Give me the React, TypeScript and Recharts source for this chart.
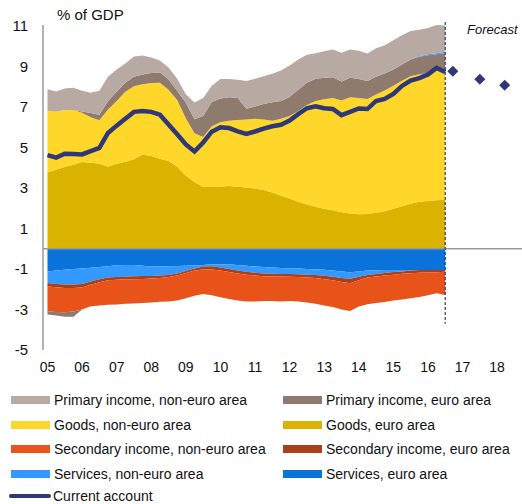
import React from "react";
import {
  ComposedChart,
  Area,
  Line,
  Scatter,
  XAxis,
  YAxis,
  ReferenceLine,
} from "recharts";

// quarterly observations, % of GDP (4-quarter sums)
const quarters = [
  2005, 2005.25, 2005.5, 2005.75, 2006, 2006.25, 2006.5, 2006.75,
  2007, 2007.25, 2007.5, 2007.75, 2008, 2008.25, 2008.5, 2008.75,
  2009, 2009.25, 2009.5, 2009.75, 2010, 2010.25, 2010.5, 2010.75,
  2011, 2011.25, 2011.5, 2011.75, 2012, 2012.25, 2012.5, 2012.75,
  2013, 2013.25, 2013.5, 2013.75, 2014, 2014.25, 2014.5, 2014.75,
  2015, 2015.25, 2015.5, 2015.75, 2016, 2016.25, 2016.5,
];

const goodsEuro = [
  3.76, 3.9, 4.05, 4.15, 4.28, 4.25, 4.2, 4.05, 4.2, 4.3, 4.42, 4.65, 4.58, 4.45, 4.33, 4.05,
  3.6, 3.3, 3.05, 3.05, 3.08, 3.1, 3.06, 3.02, 2.98, 2.9, 2.78, 2.62, 2.48, 2.32, 2.18, 2.08,
  1.98, 1.9, 1.8, 1.74, 1.71, 1.72, 1.78, 1.85, 1.98, 2.1, 2.22, 2.32, 2.36, 2.4, 2.42,
];
const goodsNonEuro = [
  3.06, 2.86, 2.8, 2.7, 2.44, 2.25, 2.15, 2.83, 3.1, 3.45, 3.6, 3.47, 3.6, 3.75, 3.52, 3.3,
  2.85, 2.4, 2.47, 3.0, 3.17, 3.22, 3.3, 3.36, 3.44, 3.48, 3.54, 3.8, 4.07, 4.48, 4.92, 5.22,
  5.4, 5.54, 5.52, 5.74, 5.73, 5.68, 5.84, 5.97, 6.07, 6.2, 6.3, 6.3, 6.32, 6.4, 6.43,
];
const primaryEuro = [
  -0.16, -0.18, -0.22, -0.26, 0.06, 0.2, 0.27, 0.42, 0.45, 0.45, 0.48, 0.48, 0.5, 0.5, 0.51, 0.45,
  0.76, 0.7, 1.03, 1.2, 1.17, 1.16, 1.09, 0.54, 0.6, 0.77, 0.92, 0.88, 0.95, 1.05, 1.1, 1.1,
  1.07, 1.03, 0.94, 0.96, 0.94, 0.88, 0.88, 0.83, 0.8, 0.8, 0.83, 0.86, 0.87, 0.8, 0.8,
];
const primaryNonEuro = [
  1.06, 1.0, 1.07, 1.1, 1.02, 1.0, 1.18, 1.2, 1.1, 0.95, 1.0, 0.94, 0.77, 0.6, 0.59, 0.6,
  0.42, 0.82, 0.9, 0.8, 0.96, 0.9, 0.9, 1.36, 1.38, 1.37, 1.4, 1.5, 1.55, 1.5, 1.38, 1.26,
  1.3, 1.37, 1.42, 1.4, 1.4, 1.36, 1.4, 1.4, 1.45, 1.45, 1.4, 1.31, 1.3, 1.39, 1.3,
];
const servicesEuro = [
  -1.12, -1.08, -1.04, -1.0, -0.98, -0.94, -0.9, -0.86, -0.82, -0.8, -0.8, -0.84, -0.88, -0.88, -0.86, -0.85,
  -0.84, -0.83, -0.8, -0.76, -0.76, -0.78, -0.8, -0.84, -0.88, -0.9, -0.93, -0.95, -0.97, -0.98, -1.0, -1.02,
  -1.04, -1.07, -1.12, -1.16, -1.12, -1.08, -1.06, -1.05, -1.05, -1.05, -1.05, -1.05, -1.05, -1.05, -1.05,
];
const servicesNonEuro = [
  -0.57, -0.66, -0.73, -0.77, -0.76, -0.68, -0.6, -0.56, -0.58, -0.58, -0.56, -0.51, -0.46, -0.44, -0.44, -0.37,
  -0.26, -0.15, -0.08, -0.1, -0.16, -0.22, -0.28, -0.3, -0.3, -0.32, -0.31, -0.3, -0.28, -0.28, -0.28, -0.28,
  -0.29, -0.31, -0.32, -0.32, -0.26, -0.22, -0.19, -0.15, -0.1, -0.07, -0.03, 0.03, 0.05, 0.06, 0.08,
];
const secondaryEuro = [
  -0.17, -0.16, -0.17, -0.17, -0.17, -0.16, -0.15, -0.14, -0.13, -0.13, -0.14, -0.14, -0.13, -0.12, -0.1, -0.1,
  -0.1, -0.1, -0.14, -0.17, -0.16, -0.15, -0.14, -0.14, -0.14, -0.14, -0.13, -0.12, -0.13, -0.14, -0.14, -0.15,
  -0.17, -0.18, -0.2, -0.22, -0.17, -0.12, -0.12, -0.12, -0.13, -0.12, -0.13, -0.14, -0.12, -0.11, -0.09,
];
const secondaryNonEuro = [
  -1.23, -1.22, -1.2, -1.16, -1.09, -1.06, -1.15, -1.21, -1.22, -1.21, -1.2, -1.19, -1.18, -1.18, -1.2, -1.23,
  -1.25, -1.24, -1.22, -1.27, -1.32, -1.33, -1.33, -1.32, -1.28, -1.22, -1.21, -1.23, -1.2, -1.2, -1.23, -1.27,
  -1.3, -1.32, -1.36, -1.38, -1.3, -1.32, -1.31, -1.31, -1.28, -1.26, -1.24, -1.19, -1.13, -1.04, -1.14,
];
const currentAccount = [
  4.62, 4.5, 4.69, 4.68, 4.66, 4.82, 4.98, 5.72, 6.08, 6.42, 6.76, 6.8, 6.76, 6.62, 6.14, 5.65,
  5.15, 4.8, 5.25, 5.78, 6.0, 5.96, 5.8, 5.67, 5.79, 5.93, 6.05, 6.12, 6.33, 6.65, 6.94, 7.04,
  6.94, 6.9, 6.6, 6.76, 6.93, 6.9, 7.3, 7.4, 7.65, 8.04, 8.3, 8.43, 8.6, 8.93, 8.73,
];

const forecastDates = [2016.72, 2017.5, 2018.22];
const forecastValues = [8.77, 8.37, 8.08];

const yearTicks = [2005, 2006, 2007, 2008, 2009, 2010, 2011, 2012, 2013, 2014, 2015, 2016, 2017, 2018];
const yearLabels = ["05", "06", "07", "08", "09", "10", "11", "12", "13", "14", "15", "16", "17", "18"];
const yTicks = [-5, -3, -1, 1, 3, 5, 7, 9, 11];

const COLORS = {
  primaryNon: "#B8AAA2",
  primaryEuro: "#8F7A6E",
  goodsNon: "#FFD62A",
  goodsEuro: "#D9B300",
  secondaryNon: "#E8531A",
  secondaryEuro: "#A8411B",
  servicesNon: "#3399FF",
  servicesEuro: "#0A73D9",
  ca: "#2E3878",
};

const legendItems = [
  { label: "Primary income, non-euro area", color: COLORS.primaryNon },
  { label: "Primary income, euro area", color: COLORS.primaryEuro },
  { label: "Goods, non-euro area", color: COLORS.goodsNon },
  { label: "Goods, euro area", color: COLORS.goodsEuro },
  { label: "Secondary income, non-euro area", color: COLORS.secondaryNon },
  { label: "Secondary income, euro area", color: COLORS.secondaryEuro },
  { label: "Services, non-euro area", color: COLORS.servicesNon },
  { label: "Services, euro area", color: COLORS.servicesEuro },
];

// stack positives upward and negatives downward, in the original's order
const rows: any[] = quarters.map((x, i) => {
  let pos = 0;
  let neg = 0;
  const up = (v: number) => {
    const lo = pos;
    pos += Math.max(v, 0);
    return [lo, pos];
  };
  const down = (v: number) => {
    const hi = neg;
    neg += Math.min(v, 0);
    return [neg, hi];
  };
  return {
    x,
    goodsEuro: up(goodsEuro[i]),
    goodsNon: up(goodsNonEuro[i]),
    primaryEuroPos: up(primaryEuro[i]),
    servicesNonPos: up(servicesNonEuro[i]),
    primaryNon: up(primaryNonEuro[i]),
    servicesEuro: down(servicesEuro[i]),
    servicesNonNeg: down(servicesNonEuro[i]),
    secondaryEuro: down(secondaryEuro[i]),
    secondaryNon: down(secondaryNonEuro[i]),
    primaryEuroNeg: down(primaryEuro[i]),
    ca: currentAccount[i],
  };
});
forecastDates.forEach((x, i) => rows.push({ x, fc: forecastValues[i] }));

const areas = [
  ["goodsEuro", COLORS.goodsEuro],
  ["goodsNon", COLORS.goodsNon],
  ["primaryEuroPos", COLORS.primaryEuro],
  ["servicesNonPos", COLORS.servicesNon],
  ["primaryNon", COLORS.primaryNon],
  ["servicesEuro", COLORS.servicesEuro],
  ["servicesNonNeg", COLORS.servicesNon],
  ["secondaryEuro", COLORS.secondaryEuro],
  ["secondaryNon", COLORS.secondaryNon],
  ["primaryEuroNeg", COLORS.primaryEuro],
];

const Diamond = (props: any) => {
  const { cx, cy } = props;
  const r = 5.5;
  return (
    <polygon
      points={`${cx},${cy - r} ${cx + r},${cy} ${cx},${cy + r} ${cx - r},${cy}`}
      fill={COLORS.ca}
    />
  );
};

const font = "'Liberation Sans', Arial, sans-serif";

export default function App() {
  return (
    <div style={{ position: "relative", width: 522, height: 504, fontFamily: font, background: "#fff" }}>
      <style>{`body{margin:0}`}</style>
      <ComposedChart
        width={522}
        height={385}
        data={rows}
        margin={{ top: 25, right: 0, left: 0, bottom: 0 }}
      >
        <XAxis
          dataKey="x"
          type="number"
          domain={[2004.87, 2018.72]}
          ticks={yearTicks}
          tickFormatter={(v) => yearLabels[yearTicks.indexOf(v)]}
          axisLine={false}
          tickLine={false}
          height={35}
          tickMargin={6}
          tick={{ fill: "#111", fontSize: 14, fontFamily: font }}
          allowDataOverflow
        />
        <YAxis
          type="number"
          domain={[-5, 11]}
          ticks={yTicks}
          width={43}
          tickLine={false}
          tickMargin={9}
          axisLine={{ stroke: "#999", strokeWidth: 1.5 }}
          tick={{ fill: "#111", fontSize: 15, fontFamily: font }}
        />
        {areas.map(([key, color]) => (
          <Area
            key={key}
            dataKey={key}
            type="linear"
            stroke="none"
            fill={color}
            fillOpacity={1}
            isAnimationActive={false}
            activeDot={false}
          />
        ))}
        <ReferenceLine y={0} stroke="#999" strokeWidth={1.5} />
        <ReferenceLine
          segment={[
            { x: 2016.5, y: 11.2 },
            { x: 2016.5, y: -3.7 },
          ]}
          stroke={COLORS.ca}
          strokeDasharray="3 2"
          strokeWidth={1.2}
          ifOverflow="visible"
        />
        <Line
          dataKey="ca"
          type="linear"
          stroke={COLORS.ca}
          strokeWidth={4.5}
          dot={false}
          activeDot={false}
          isAnimationActive={false}
        />
        <Scatter dataKey="fc" shape={<Diamond />} isAnimationActive={false} />
      </ComposedChart>

      <div style={{ position: "absolute", left: 57, top: 6, fontSize: 15, color: "#111" }}>% of GDP</div>
      <div style={{ position: "absolute", left: 467, top: 22, fontSize: 13, fontStyle: "italic", color: "#111" }}>
        Forecast
      </div>

      {legendItems.map((item, i) => {
        const col = i % 2;
        const row = Math.floor(i / 2);
        return (
          <div
            key={item.label}
            style={{
              position: "absolute",
              left: col === 0 ? 11 : 283,
              top: 392 + row * 24.5,
              display: "flex",
              alignItems: "center",
              fontSize: 14,
              color: "#111",
              whiteSpace: "nowrap",
            }}
          >
            <span style={{ display: "inline-block", width: 39, height: 8, background: item.color, marginRight: 4 }} />
            {item.label}
          </div>
        );
      })}
      <div
        style={{
          position: "absolute",
          left: 9,
          top: 488,
          display: "flex",
          alignItems: "center",
          fontSize: 14,
          lineHeight: "16px",
          color: "#111",
          whiteSpace: "nowrap",
        }}
      >
        <span style={{ display: "inline-block", width: 42, height: 4, borderRadius: 2, background: COLORS.ca, marginRight: 2 }} />
        Current account
      </div>
    </div>
  );
}
